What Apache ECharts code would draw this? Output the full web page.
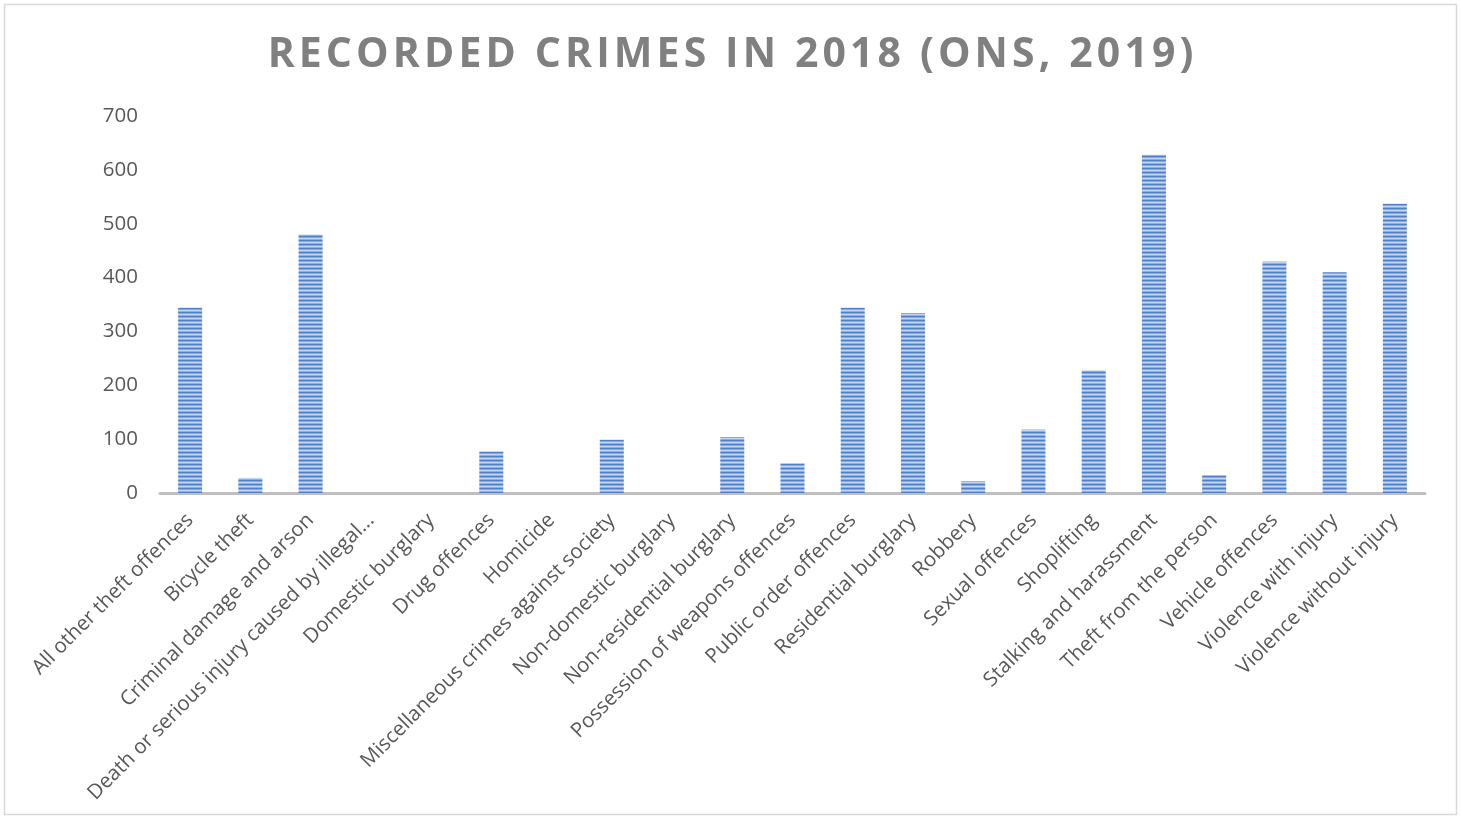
<!DOCTYPE html>
<html>
<head>
<meta charset="utf-8">
<script src="https://cdn.jsdelivr.net/npm/echarts@6/dist/echarts.min.js"></script>
<style>
  html, body { margin: 0; padding: 0; background: #fff; }
  #chart { width: 1461px; height: 818px; }
</style>
</head>
<body>
<div id="chart"></div>
<script>
// Recorded crimes by offence group, 2018
const titleText = 'RECORDED CRIMES IN 2018 (ONS, 2019)';
const categories = [
  'All other theft offences',
  'Bicycle theft',
  'Criminal damage and arson',
  'Death or serious injury caused by illegal...',
  'Domestic burglary',
  'Drug offences',
  'Homicide',
  'Miscellaneous crimes against society',
  'Non-domestic burglary',
  'Non-residential burglary',
  'Possession of weapons offences',
  'Public order offences',
  'Residential burglary',
  'Robbery',
  'Sexual offences',
  'Shoplifting',
  'Stalking and harassment',
  'Theft from the person',
  'Vehicle offences',
  'Violence with injury',
  'Violence without injury'
];
const crimes = [344, 28, 480, 0, 0, 77, 0, 99, 0, 104, 55, 344, 334, 22, 118, 228, 628, 33, 430, 410, 537];
const yTicks = [0, 100, 200, 300, 400, 500, 600, 700];

// Spread the title letters apart with hair spaces
const spacedTitle = titleText.split('').join('\u200A');

// Horizontal striped fill for the bars
function stripePattern() {
  const c = document.createElement('canvas');
  c.width = 8; c.height = 4;
  const g = c.getContext('2d');
  const rows = ['#4f80c9', '#86a9dd', '#c3d5ef', '#8eb0e0'];
  rows.forEach((col, i) => { g.fillStyle = col; g.fillRect(0, i, 8, 1); });
  return c;
}

const chart = echarts.init(document.getElementById('chart'), null, { renderer: 'canvas' });
chart.setOption({
  backgroundColor: '#ffffff',
  animation: false,
  title: {
    text: spacedTitle,
    left: 'center',
    top: 30,
    textStyle: {
      fontFamily: 'Open Sans',
      fontWeight: 'bold',
      fontSize: 41,
      color: '#808080'
    }
  },
  graphic: [{
    type: 'rect',
    shape: { x: 4.5, y: 4.5, width: 1452, height: 810 },
    style: { fill: 'none', stroke: '#d9d9d9', lineWidth: 1.5 },
    silent: true
  }],
  grid: { left: 160, right: 36, top: 116, bottom: 325, containLabel: false },
  xAxis: {
    type: 'category',
    data: categories,
    axisLine: { lineStyle: { color: '#bfbfbf', width: 3 } },
    axisTick: { show: false },
    axisLabel: {
      interval: 0,
      rotate: 45,
      margin: 24,
      fontFamily: 'Open Sans',
      fontSize: 20.5,
      color: '#595959'
    }
  },
  yAxis: {
    type: 'value',
    min: yTicks[0],
    max: yTicks[yTicks.length - 1],
    interval: 100,
    axisLine: { show: false },
    axisTick: { show: false },
    splitLine: { show: false },
    axisLabel: {
      margin: 22,
      fontFamily: 'Open Sans',
      fontSize: 20.5,
      color: '#595959'
    }
  },
  series: [{
    type: 'bar',
    data: crimes,
    barWidth: 24,
    itemStyle: {
      color: { image: stripePattern(), repeat: 'repeat' }
    }
  }]
});
</script>
</body>
</html>
